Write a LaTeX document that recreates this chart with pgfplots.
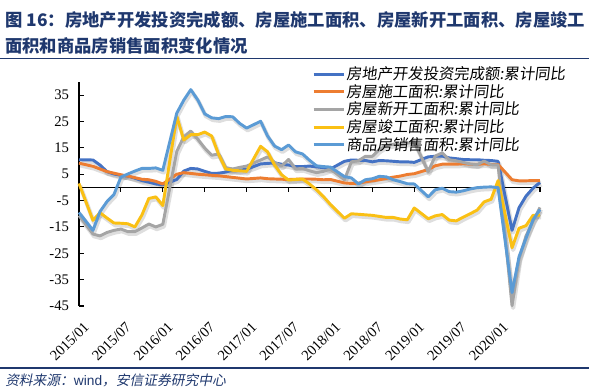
\documentclass[border=0pt]{standalone}
\usepackage{pgfplots}
\pgfplotsset{compat=1.18}
\usepackage{fontspec}
\setmainfont{Liberation Serif}
\setsansfont{Liberation Sans}
\newfontfamily\cjk{Noto Sans CJK SC}
\newfontfamily\cjkit{Noto Sans CJK SC}[FakeSlant=0.2]
\newfontfamily\cjkleg{Noto Sans CJK SC}[FakeSlant=0.12]
\definecolor{cinv}{RGB}{68,114,196}
\definecolor{ccon}{RGB}{237,125,49}
\definecolor{cnew}{RGB}{165,165,165}
\definecolor{ccom}{RGB}{250,192,20}
\definecolor{csal}{RGB}{91,155,213}
\definecolor{navy}{RGB}{31,56,110}

\pgfplotstableread{
x inv con new com sal
0 10.5 9.2 -10.7 1.5 -9.5
2 10.4 8.0 -17.7 -12.5 -16.3
3 8.5 7.0 -18.4 -9.6 -9.2
4 6.0 6.0 -17.1 -11.6 -5.4
5 5.1 5.4 -16.3 -13.5 -2.7
6 4.6 4.8 -15.8 -13.6 3.9
7 4.3 4.3 -16.8 -13.8 5.1
8 3.5 3.7 -16.8 -15.0 6.2
9 2.6 3.1 -15.4 -10.5 7.2
10 2.0 2.9 -13.9 -4.2 7.2
11 1.3 2.3 -15.0 -3.6 7.4
12 1.0 1.3 -14.0 -6.9 6.5
14 3.0 5.0 13.7 27.0 28.2
15 6.2 5.6 19.2 18.0 33.1
16 7.2 5.3 21.4 20.0 37.1
17 7.0 5.0 18.3 20.0 33.2
18 6.1 4.8 14.9 21.0 27.9
19 5.3 4.6 12.2 19.5 26.4
20 5.4 4.4 12.7 12.5 26.1
21 5.8 4.1 7.5 7.0 26.9
22 6.6 3.8 7.0 6.5 26.8
23 6.5 3.5 7.6 6.3 24.3
24 6.9 3.2 8.1 6.1 22.5
26 8.9 3.6 10.4 15.6 25.1
27 9.1 3.3 11.6 13.5 19.5
28 9.3 3.2 9.5 8.5 15.7
29 8.8 3.1 8.1 4.8 14.3
30 8.5 3.0 10.6 2.8 16.1
31 7.9 3.1 7.0 3.0 13.5
32 7.9 3.2 7.2 3.2 12.7
33 8.1 3.2 6.3 1.3 10.3
34 7.8 3.1 5.6 -0.9 8.2
35 7.5 2.9 6.1 -3.5 7.9
36 7.0 3.0 7.0 -6.5 7.7
38 9.9 1.7 2.9 -11.7 4.1
39 10.4 1.5 9.7 -10.0 3.6
40 10.3 1.6 10.1 -10.2 1.3
41 10.2 2.1 11.8 -10.4 2.9
42 9.7 2.5 11.8 -10.6 3.3
43 10.2 2.9 14.4 -11.0 4.2
44 10.1 3.4 15.9 -11.4 4.0
45 9.9 3.9 16.4 -11.4 2.9
46 9.7 4.3 16.3 -12.0 2.2
47 9.7 4.9 16.8 -12.3 1.4
48 9.5 5.2 17.2 -7.8 1.3
50 11.6 6.8 6.0 -11.9 -3.6
51 11.8 8.2 11.9 -10.8 -0.9
52 11.9 8.8 13.1 -10.3 -0.3
53 11.2 8.8 10.5 -12.4 -1.6
54 10.9 8.8 10.1 -12.7 -1.8
55 10.6 9.0 9.5 -11.3 -1.3
56 10.5 8.8 8.9 -10.0 -0.6
57 10.5 8.7 8.6 -8.6 -0.1
58 10.3 9.0 10.0 -5.5 0.1
59 10.2 8.7 8.6 -4.5 0.2
60 9.9 8.7 8.5 2.6 -0.1
62 -16.3 2.9 -44.9 -22.9 -39.9
63 -7.7 2.5 -27.2 -15.5 -26.3
64 -3.3 2.5 -18.4 -14.5 -19.3
65 -0.3 2.6 -12.8 -10.6 -12.3
66 1.9 2.6 -7.6 -10.5 -8.4
}\datatable

\begin{document}
\begin{tikzpicture}
\path[use as bounding box] (0,0) rectangle (450pt,294pt);
% title
\node[anchor=west, inner sep=0pt, text=navy, font=\cjk\bfseries\fontsize{13pt}{15pt}\selectfont] at (3.75pt,279pt)
 {图 16：房地产开发投资完成额、房屋施工面积、房屋新开工面积、房屋竣工};
\node[anchor=west, inner sep=0pt, text=navy, font=\cjk\bfseries\fontsize{13pt}{15pt}\selectfont] at (3.75pt,259.5pt)
 {面积和商品房销售面积变化情况};
\draw[navy, line width=0.9pt] (0pt,250pt) -- (442pt,250pt);
\draw[navy, line width=0.9pt] (0pt,18pt) -- (442pt,18pt);
\node[anchor=west, inner sep=0pt, text=navy, font=\fontsize{10.3pt}{12pt}\selectfont] at (3.75pt,9pt)
 {{\cjkit 资料来源：}{\sffamily wind}{\cjkit ，安信证券研究中心}};

\begin{axis}[
  at={(59.25pt,64.5pt)}, anchor=south west,
  width=345.75pt, height=168pt, scale only axis,
  xmin=0, xmax=66, ymin=-45, ymax=40,
  axis x line*=bottom, axis y line*=left,
  axis line style={-, line width=0.9pt, black},
  x axis line style={draw=none},
  xtick={0,6,...,66},
  xticklabels={2015/01,2015/07,2016/01,2016/07,2017/01,2017/07,2018/01,2018/07,2019/01,2019/07,2020/01,{}},
  x tick style={draw=none},
  ytick={-45,-35,...,35},
  y tick style={black, line width=0.8pt},
  ytick align=inside,
  major tick length=3.5pt,
  /pgf/number format/assume math mode=true,
  tick label style={font=\fontsize{11pt}{13pt}\selectfont},
  yticklabel style={xshift=-4pt},
  xticklabel style={inner sep=0pt, xshift=3pt, yshift=-11pt, rotate=45, anchor=north east},
  legend style={at={(0.505,1.075)}, anchor=north west, draw=none, fill=none,
    inner sep=0pt, row sep=0pt,
    font=\cjkleg\fontsize{11.5pt}{13.5pt}\selectfont,
    nodes={inner sep=1pt}},
  legend cell align=left,
  legend image code/.code={\draw[#1, line width=2.2pt] (0pt,0pt) -- (22.5pt,0pt);},
  every axis plot/.append style={line width=2.2pt, line join=round, mark=none},
  shadow/.style={black, opacity=0.13, line width=3.2pt, forget plot, shift={(0.8pt,-1.6pt)}},
  clip=false,
]
\draw[black, line width=0.9pt] (axis cs:0,0) -- (axis cs:66,0);
\pgfplotsinvokeforeach{6,12,...,66}{\draw[black, line width=0.8pt] (axis cs:#1,0) -- ([yshift=-3.5pt]axis cs:#1,0);}
\addplot[shadow] table[x=x, y=inv] {\datatable};
\addplot[shadow] table[x=x, y=con] {\datatable};
\addplot[shadow] table[x=x, y=new] {\datatable};
\addplot[shadow] table[x=x, y=com] {\datatable};
\addplot[shadow] table[x=x, y=sal] {\datatable};
\addplot[cinv] table[x=x, y=inv] {\datatable};
\addlegendentry{房地产开发投资完成额:累计同比}
\addplot[ccon] table[x=x, y=con] {\datatable};
\addlegendentry{房屋施工面积:累计同比}
\addplot[cnew] table[x=x, y=new] {\datatable};
\addlegendentry{房屋新开工面积:累计同比}
\addplot[ccom] table[x=x, y=com] {\datatable};
\addlegendentry{房屋竣工面积:累计同比}
\addplot[csal] table[x=x, y=sal] {\datatable};
\addlegendentry{商品房销售面积:累计同比}
\end{axis}
\end{tikzpicture}
\end{document}
